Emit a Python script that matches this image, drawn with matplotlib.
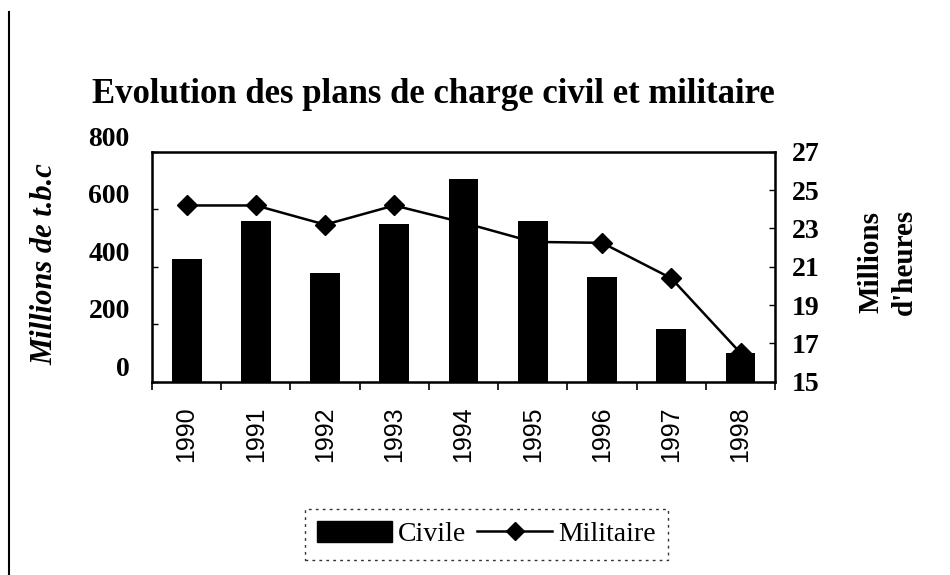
import numpy as np
import matplotlib.pyplot as plt
from matplotlib.lines import Line2D

years = ["1990", "1991", "1992", "1993", "1994", "1995", "1996", "1997", "1998"]
civile = [428, 558, 378, 549, 705, 558, 366, 183, 100]               # millions de t.b.c
militaire = [24.2, 24.2, 23.2, 24.2, 23.3, 22.3, 22.25, 20.4, 16.5]  # millions d'heures

serif = "Liberation Serif"
sans = "Liberation Sans"

fig = plt.figure(figsize=(9.5, 5.75), dpi=100)
ax = fig.add_axes([0.16, 0.336, 0.656, 0.40])
x = np.arange(len(years))

ax.bar(x, civile, width=0.43, color="black", zorder=3)
ax.set_xlim(-0.5, len(years) - 0.5)
ax.set_ylim(0, 800)
ax.set_yticks([0, 200, 400, 600, 800])
ax.set_yticklabels(["0", "200", "400", "600", "800"], fontfamily=serif,
                   fontweight="bold", fontsize=20, va="bottom")
ax.set_xticks(x)
ax.set_xticklabels(years, rotation=90, fontfamily=sans, fontsize=18)
ax.tick_params(axis="x", length=0, pad=18)
ax.set_xticks(np.arange(len(years) + 1) - 0.5, minor=True)
ax.tick_params(axis="x", which="minor", length=6, width=1.2, direction="out")
ax.tick_params(axis="y", length=4, width=1, direction="in", pad=16)
for s in ax.spines.values():
    s.set_linewidth(1.8)
ax.set_ylabel("Millions de t.b.c", fontfamily=serif, fontweight="bold",
              fontstyle="italic", fontsize=22)
ax.yaxis.set_label_coords(-0.148, 0.51)

ax2 = ax.twinx()
ax2.plot(x, militaire, color="black", lw=1.8, marker="D", markersize=10, zorder=2)
ax2.set_ylim(15, 27)
ax2.set_yticks(np.arange(15, 28, 2))
ax2.set_yticklabels([str(v) for v in range(15, 28, 2)], fontfamily=serif,
                    fontweight="bold", fontsize=20)
ax2.tick_params(axis="y", length=4, width=1, direction="in", pad=12)
ax2.set_ylabel("Millions\nd'heures", fontfamily=serif, fontweight="bold",
               fontsize=21, rotation=90, linespacing=1.3)
ax2.yaxis.set_label_coords(1.132, 0.52)
ax.set_zorder(ax2.get_zorder() + 1)
ax.patch.set_visible(False)

fig.text(0.456, 0.835, "Evolution des plans de charge civil et militaire",
         ha="center", va="center", fontfamily=serif, fontweight="bold", fontsize=25)

handles = [plt.Rectangle((0, 0), 1, 1, color="black"),
           Line2D([0], [0], color="black", lw=1.8, marker="D", markersize=9)]
leg = fig.legend(handles, ["Civile", "Militaire"], loc="center",
                 bbox_to_anchor=(0.512, 0.071), ncol=2, frameon=True,
                 prop={"family": serif, "size": 20}, handlelength=2.7,
                 handleheight=0.8, columnspacing=0.4, handletextpad=0.2,
                 fancybox=False, borderpad=0.45, borderaxespad=0)
leg.get_frame().set_edgecolor("black")
leg.get_frame().set_linestyle((0, (2, 3)))
leg.get_frame().set_linewidth(1)

# scanned page border on the left
fig.add_artist(Line2D([0.009, 0.009], [0.0, 0.98], color="black", lw=1.5))

fig.savefig("out.png", dpi=100)
